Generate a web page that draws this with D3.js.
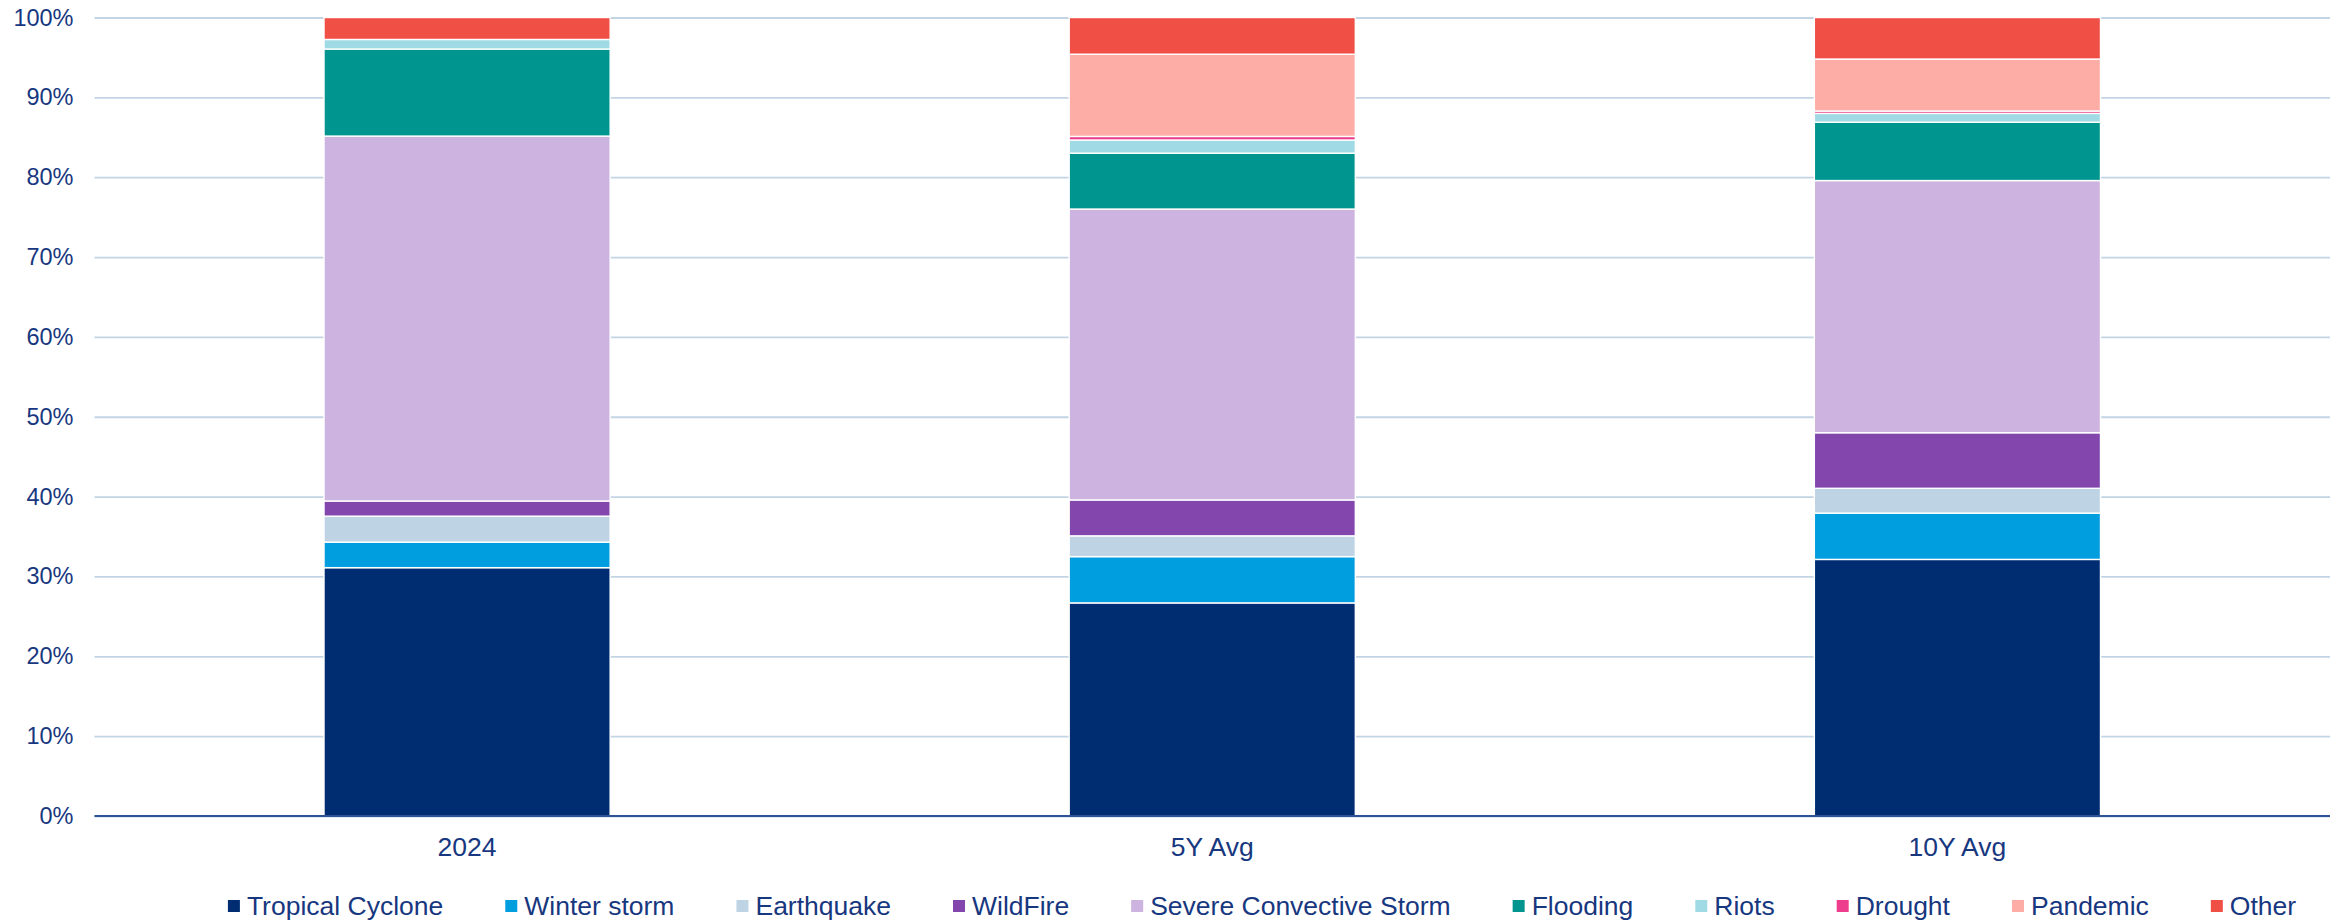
<!DOCTYPE html>
<html>
<head>
<meta charset="utf-8">
<script src="https://cdn.jsdelivr.net/npm/d3@7"></script>
<style>
  html, body { margin: 0; padding: 0; background: #ffffff; }
  svg { display: block; font-family: "Liberation Sans", Arial, sans-serif; }
</style>
</head>
<body>
<svg id="chart" width="2338" height="923"></svg>
<script>
// ---- Data (percent share of insured losses) ----
const categories = ["2024", "5Y Avg", "10Y Avg"];
const seriesNames = ["Tropical Cyclone", "Winter storm", "Earthquake", "WildFire",
  "Severe Convective Storm", "Flooding", "Riots", "Drought", "Pandemic", "Other"];
const tropicalCyclone = [31.1, 26.7, 32.1];
const winterStorm     = [3.2, 5.8, 5.8];
const earthquake      = [3.25, 2.6, 3.1];
const wildFire        = [1.9, 4.5, 6.95];
const severeConvective= [45.7, 36.45, 31.55];
const flooding        = [10.9, 7.0, 7.3];
const riots           = [1.2, 1.65, 1.1];
const drought         = [0, 0.45, 0.3];
const pandemic        = [0, 10.3, 6.5];
const other           = [2.75, 4.6, 5.2];
const yTicks = [0, 0.1, 0.2, 0.3, 0.4, 0.5, 0.6, 0.7, 0.8, 0.9, 1.0];

const seriesValues = [tropicalCyclone, winterStorm, earthquake, wildFire,
  severeConvective, flooding, riots, drought, pandemic, other];
const colors = ["#002D72", "#009DDF", "#BED3E4", "#8246AD", "#CDB3DF",
  "#00958F", "#A0DAE4", "#EE3D8C", "#FEADA6", "#F04F46"];

// table for d3.stack
const table = categories.map((c, i) => {
  const row = { category: c };
  seriesNames.forEach((s, j) => row[s] = seriesValues[j][i]);
  return row;
});

const svg = d3.select("#chart");
const margin = { left: 94.5, right: 8, top: 17.5, bottom: 107 };
const W = 2338, H = 923;
const x0 = margin.left, x1 = W - margin.right;
const yTop = margin.top, yBot = H - margin.bottom;

const x = d3.scaleBand().domain(categories).range([x0, x1])
  .paddingInner(0.616).paddingOuter(0.308);
const y = d3.scaleLinear().domain([0, 1]).range([yBot, yTop]);

const textColor = "#17377F";
const fontFam = '"Liberation Sans", Arial, sans-serif';

// gridlines
const grid = svg.append("g").attr("transform", `translate(${x0},0)`)
  .call(d3.axisLeft(y).tickValues(yTicks).tickSize(-(x1 - x0)).tickFormat(""));
grid.select(".domain").remove();
grid.selectAll("line").attr("stroke", "#C3D4E5").attr("stroke-width", 1.8);

// stacked bars
const stack = d3.stack().keys(seriesNames).offset(d3.stackOffsetExpand);
const stacked = stack(table);

const layers = svg.append("g").selectAll("g").data(stacked).join("g")
  .attr("fill", (d, i) => colors[i]);
layers.selectAll("rect").data(d => d.filter(p => p[1] - p[0] > 0)).join("rect")
  .attr("x", d => x(d.data.category))
  .attr("width", x.bandwidth())
  .attr("y", d => y(d[1]))
  .attr("height", d => y(d[0]) - y(d[1]))
  .attr("stroke", "#ffffff")
  .attr("stroke-width", 1.4);

// baseline axis
const xAxis = svg.append("g").attr("transform", `translate(0,${yBot})`)
  .call(d3.axisBottom(x).tickSize(0).tickPadding(21));
xAxis.select(".domain").attr("stroke", "#2E5395").attr("stroke-width", 2)
  .attr("d", `M${x0},0H${x1}`);
xAxis.selectAll("text").attr("fill", textColor).attr("font-size", 26.5)
  .attr("font-family", fontFam);

// y tick labels
const yAxis = svg.append("g").attr("transform", `translate(${x0},0)`)
  .call(d3.axisLeft(y).tickValues(yTicks).tickFormat(d3.format(".0%")).tickSize(0).tickPadding(21));
yAxis.select(".domain").remove();
yAxis.selectAll("text").attr("fill", textColor).attr("font-size", 23.5)
  .attr("font-family", fontFam);

// legend
const legend = svg.append("g");
const sq = 12, sqGap = 7, itemGap = 62, legendBaseline = 915, legendCenter = 1262;
const items = legend.selectAll("g").data(seriesNames).join("g");
items.append("rect").attr("width", sq).attr("height", sq)
  .attr("y", legendBaseline - 15).attr("fill", (d, i) => colors[i]);
items.append("text").attr("x", sq + sqGap).attr("y", legendBaseline)
  .attr("font-size", 26.5).attr("fill", textColor).text(d => d);
let cursor = 0;
const widths = [];
items.each(function () {
  const tw = d3.select(this).select("text").node().getComputedTextLength();
  widths.push(sq + sqGap + tw);
});
const total = d3.sum(widths) + itemGap * (widths.length - 1);
const start = legendCenter - total / 2;
items.attr("transform", (d, i) => {
  const tx = start + cursor;
  cursor += widths[i] + itemGap;
  return `translate(${tx},0)`;
});
</script>
</body>
</html>
